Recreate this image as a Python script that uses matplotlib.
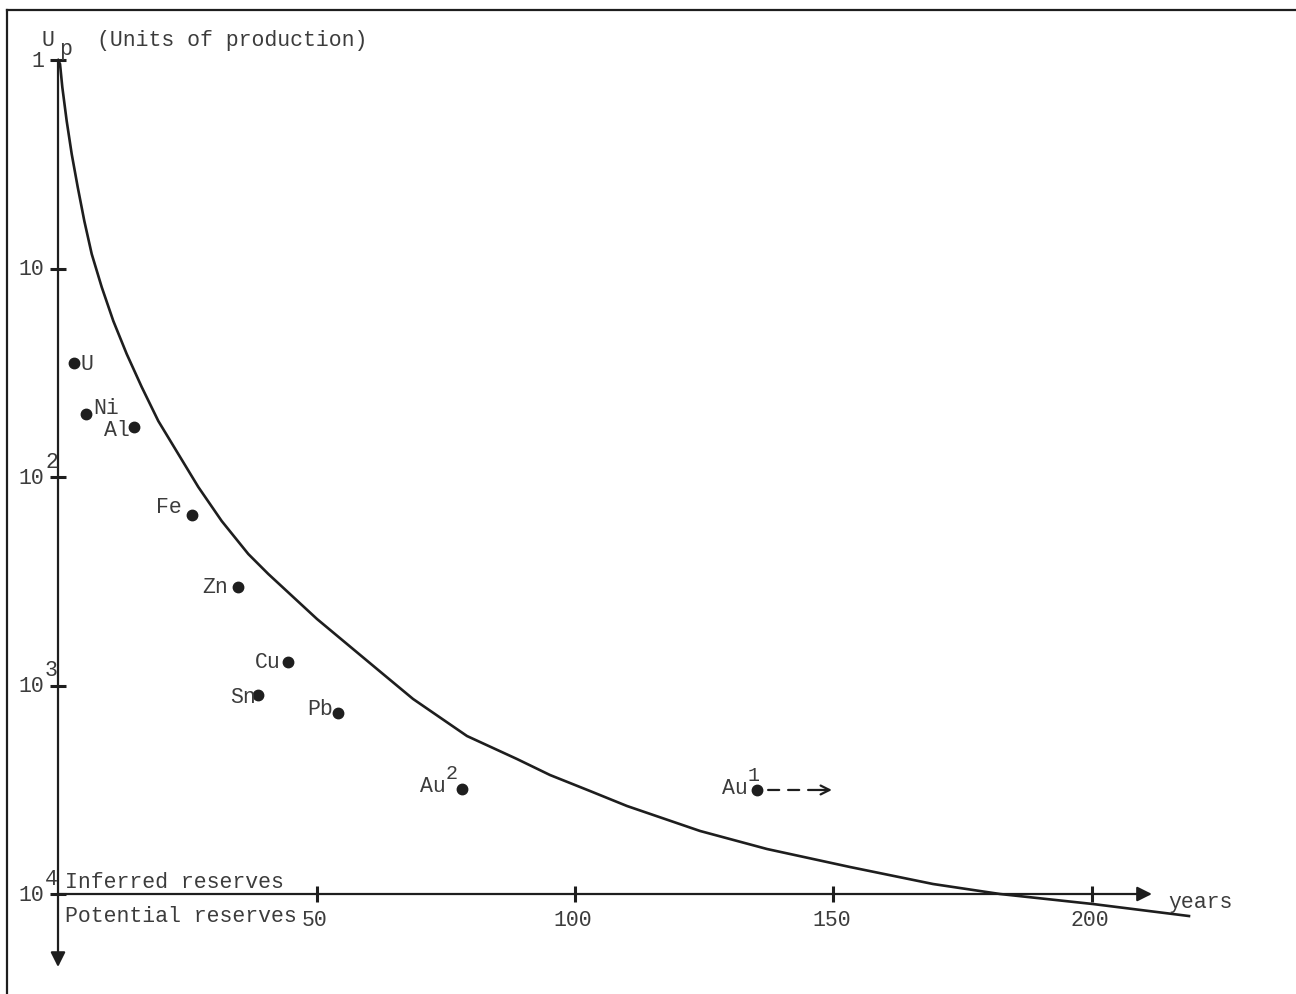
import matplotlib.pyplot as plt
from matplotlib.lines import Line2D

# metals: years of reserves vs units of production
metals = ["U", "Ni", "Al", "Fe", "Zn", "Cu", "Sn", "Pb", "Au", "Au"]
metal_sup = ["", "", "", "", "", "", "", "", "2", "1"]
metal_years = [3.1, 5.4, 14.7, 25.9, 34.8, 44.5, 38.7, 54.2, 78.1, 135.2]
metal_up = [28.4, 49.9, 57.5, 152, 337, 771, 1111, 1355, 3134, 3170]

# reference curve
curve_years = [0, 0.39, 0.83, 1.68, 2.65, 3.81, 5.09, 6.52, 8.45, 10.70, 13.29,
               16.19, 19.40, 23.27, 27.14, 31.66, 36.81, 40.68, 50.10, 62.86,
               68.67, 79.11, 88.78, 95.16, 102.9, 110.06, 124.18, 137.14,
               153.19, 169.25, 182.21, 200.19, 218.76]
curve_up = [1.0, 1.045, 1.348, 1.962, 2.824, 4.066, 5.918, 8.52, 12.27, 17.86, 25.71,
            37.01, 53.88, 77.59, 111.7, 162.6, 234.1, 291.9, 479.9, 880.6,
            1160, 1747, 2252, 2687, 3206, 3784, 4985, 6084,
            7422, 8954, 10000, 11170, 12754]

x_ticks = [50, 100, 150, 200]
y_ticks = [1, 10, 100, 1000, 10000]
y_base = ["1", "10", "10", "10", "10"]
y_sup = ["", "", "2", "3", "4"]

au1_arrow_end = 149.7

ink = "#1e1e1e"
txt = "#3c3c3c"
font = "Liberation Mono"
fs = 15.5

fig = plt.figure(figsize=(12.96, 9.95), dpi=100)
ax = fig.add_axes([0, 0, 1, 1])
ax.set_yscale("log")
ax.set_xlim(-11.22, 239.46)
ax.set_ylim(10 ** 4.4796, 10 ** -0.2926)
ax.axis("off")

# page frame
fig.add_artist(Line2D([7 / 1296, 1], [1 - 11 / 995, 1 - 11 / 995], color=ink, lw=1.6))
fig.add_artist(Line2D([7 / 1296, 7 / 1296], [0, 1 - 11 / 995], color=ink, lw=1.6))

# axes with arrows
ax.annotate("", xy=(211.6, 1e4), xytext=(0, 1e4),
            arrowprops=dict(arrowstyle="-|>", color=ink, lw=1.6, mutation_scale=22,
                            shrinkA=0, shrinkB=0))
ax.annotate("", xy=(0, 22400), xytext=(0, 1),
            arrowprops=dict(arrowstyle="-|>", color=ink, lw=1.6, mutation_scale=22,
                            shrinkA=0, shrinkB=0))

# ticks
ax.plot([0] * len(y_ticks), y_ticks, ls="none", marker="_", ms=12, mew=2.2, color=ink)
ax.plot(x_ticks, [1e4] * len(x_ticks), ls="none", marker="|", ms=12, mew=2.2, color=ink)

for v, b, s in zip(y_ticks, y_base, y_sup):
    ax.annotate(b, (0, v), xytext=(-14, 0), textcoords="offset pixels",
                ha="right", va="center", fontsize=fs, family=font, color=txt)
    if s:
        ax.annotate(s, (0, v), xytext=(-13, 16), textcoords="offset pixels",
                    ha="left", va="center", fontsize=fs, family=font, color=txt)

for v in x_ticks:
    ax.annotate(str(v), (v, 1e4), xytext=(-2, -25), textcoords="offset pixels",
                ha="center", va="center", fontsize=fs, family=font, color=txt)

# curve
ax.plot(curve_years, curve_up, color=ink, lw=1.9, solid_joinstyle="round")

# metal points
ax.plot(metal_years, metal_up, ls="none", marker="o", ms=7.5, color=ink)

label_off = {
    "U": (6, 0, "left"), "Ni": (7, 7, "left"), "Al": (-4, -3, "right"),
    "Fe": (-10, 8, "right"), "Zn": (-10, 1, "right"), "Cu": (-7, 0, "right"),
    "Sn": (-2, -1, "right"), "Pb": (-5, 5, "right"), "Au2": (-16, 3, "right"),
    "Au1": (-9, 2, "right"),
}
for name, s, x, y in zip(metals, metal_sup, metal_years, metal_up):
    dx, dy, ha = label_off[name + s]
    ax.annotate(name, (x, y), xytext=(dx, dy), textcoords="offset pixels",
                ha=ha, va="center", fontsize=fs, family=font, color=txt)
    if s:
        ax.annotate(s, (x, y), xytext=(dx + 6, dy + 13), textcoords="offset pixels",
                    ha="center", va="center", fontsize=fs - 1, family=font, color=txt)

# Au1 keeps going: dashed shaft, solid head
ax.annotate("", xy=(au1_arrow_end - 2.2, metal_up[-1]), xytext=(metal_years[-1], metal_up[-1]),
            arrowprops=dict(arrowstyle="-", color=ink, lw=1.6, ls=(0, (5, 4)),
                            shrinkA=8, shrinkB=0))
ax.annotate("", xy=(au1_arrow_end, metal_up[-1]), xytext=(au1_arrow_end - 2.4, metal_up[-1]),
            arrowprops=dict(arrowstyle="->", color=ink, lw=1.6,
                            mutation_scale=16, shrinkA=0, shrinkB=0))

# axis texts
ax.text(-2.0, 10 ** -0.10, "U", ha="center", va="center", fontsize=fs, family=font, color=txt)
ax.text(1.5, 10 ** -0.055, "p", ha="center", va="center", fontsize=fs, family=font, color=txt)
ax.text(7.6, 10 ** -0.10, "(Units of production)", ha="left", va="center",
        fontsize=fs, family=font, color=txt)
ax.text(1.3, 10 ** 3.94, "Inferred reserves", ha="left", va="center",
        fontsize=fs, family=font, color=txt)
ax.text(1.3, 10 ** 4.105, "Potential reserves", ha="left", va="center",
        fontsize=fs, family=font, color=txt)
ax.text(214.7, 10 ** 4.035, "years", ha="left", va="center",
        fontsize=fs, family=font, color=txt)

fig.savefig("out.png", dpi=100, facecolor="white")
